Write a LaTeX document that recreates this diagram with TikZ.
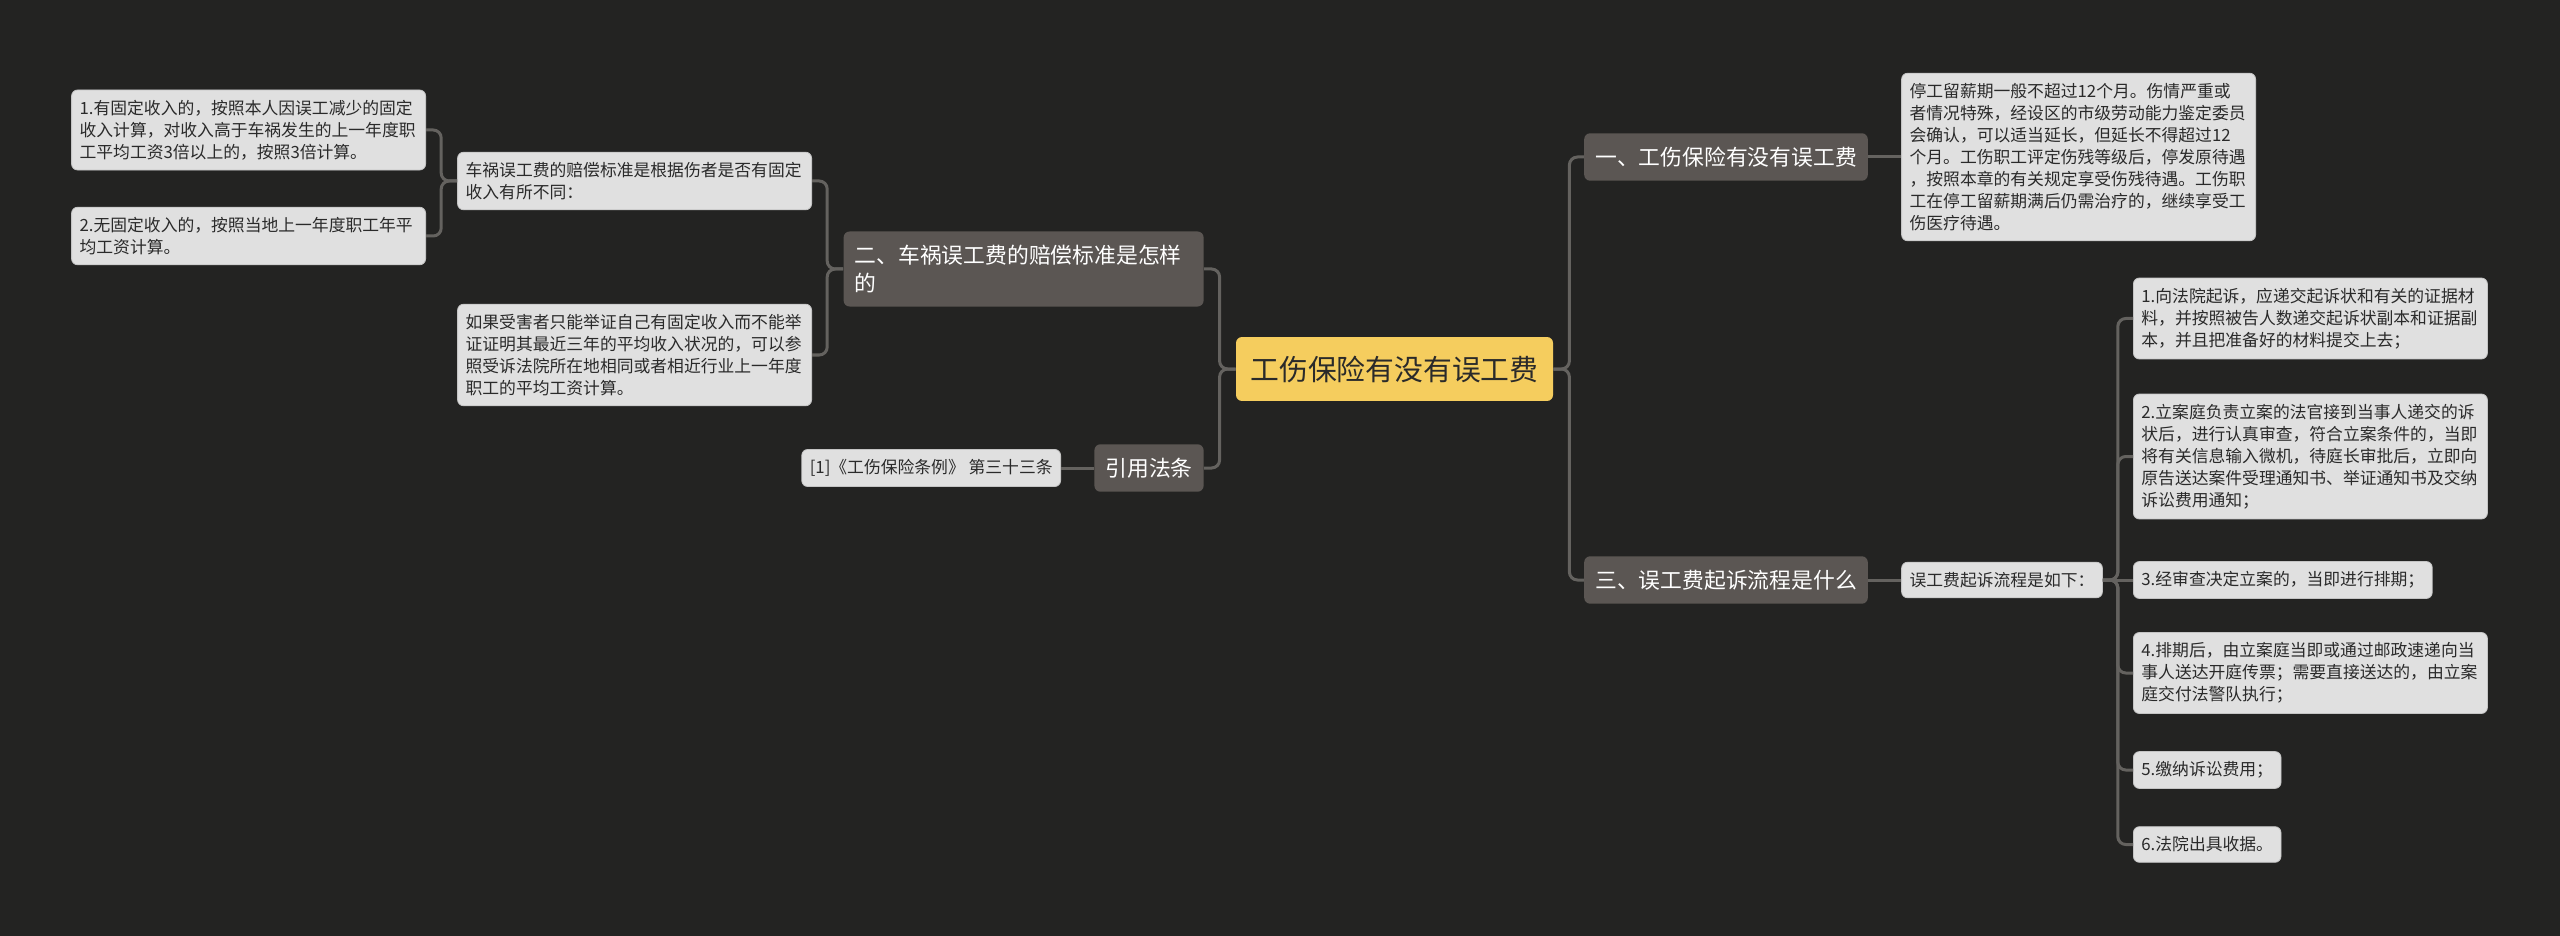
\documentclass[tikz,border=0pt]{standalone}
\usepackage{fontspec}
\setmainfont{Noto Sans CJK SC}
\usepackage{tikz}
\usetikzlibrary{positioning}
\definecolor{bgdark}{HTML}{232322}
\definecolor{rootyellow}{HTML}{F5CD5E}
\definecolor{branchgray}{HTML}{5B5653}
\definecolor{leafgray}{HTML}{E0E0E0}
\definecolor{leafedge}{HTML}{C4C4C4}
\definecolor{linegray}{HTML}{64625F}
\definecolor{inkdark}{HTML}{2A2A2A}

\begin{document}
\begin{tikzpicture}
[x=0.5pt, y=-0.5pt,
baseshape/.style={rectangle, rounded corners=3pt, align=left},
root/.style={baseshape, fill=rootyellow, text=inkdark, font=\fontsize{14.4pt}{17pt}\selectfont, inner xsep=7.25pt, inner ysep=9.3pt},
branch/.style={baseshape, fill=branchgray, text=white, font=\fontsize{10.9pt}{14pt}\selectfont, inner xsep=5.5pt, inner ysep=6.8pt},
leaf/.style={baseshape, fill=leafgray, draw=leafedge, line width=0.4pt, text=inkdark, font=\fontsize{8.4pt}{11pt}\selectfont, inner xsep=4pt, inner ysep=5pt},
wide/.style={leaf, text width=169pt},
link/.style={draw=linegray, line width=1.5pt, rounded corners=4pt},
node distance=16.5pt]

    \useasboundingbox (0,0) rectangle (2560,936);
    \fill[bgdark] (0,0) rectangle (2560,936);

    \node (main) [root] at (1394.5,369) {工伤保险有没有误工费};

    \node (sec1) [branch] at (1726,157) {一、工伤保险有没有误工费};
    \node (note1) [wide, right=of sec1] {停工留薪期一般不超过12个月。伤情严重或\\者情况特殊，经设区的市级劳动能力鉴定委员\\会确认，可以适当延长，但延长不得超过12\\个月。工伤职工评定伤残等级后，停发原待遇\\，按照本章的有关规定享受伤残待遇。工伤职\\工在停工留薪期满后仍需治疗的，继续享受工\\伤医疗待遇。};

    \node (sec3) [branch] at (1726,580) {三、误工费起诉流程是什么};
    \node (flow) [leaf, right=of sec3] {误工费起诉流程是如下：};
    \node (flow1) [wide, anchor=west] at (2133,318.5) {1.向法院起诉，应递交起诉状和有关的证据材\\料，并按照被告人数递交起诉状副本和证据副\\本，并且把准备好的材料提交上去；};
    \node (flow2) [wide, anchor=west] at (2133,456.5) {2.立案庭负责立案的法官接到当事人递交的诉\\状后，进行认真审查，符合立案条件的，当即\\将有关信息输入微机，待庭长审批后，立即向\\原告送达案件受理通知书、举证通知书及交纳\\诉讼费用通知；};
    \node (flow3) [leaf, anchor=west] at (2133,580) {3.经审查决定立案的，当即进行排期；};
    \node (flow4) [wide, anchor=west] at (2133,673) {4.排期后，由立案庭当即或通过邮政速递向当\\事人送达开庭传票；需要直接送达的，由立案\\庭交付法警队执行；};
    \node (flow5) [leaf, anchor=west] at (2133,770) {5.缴纳诉讼费用；};
    \node (flow6) [leaf, anchor=west] at (2133,844.5) {6.法院出具收据。};

    \node (sec2) [branch, text width=169pt, anchor=east] at (1204,269) {二、车祸误工费的赔偿标准是怎样\\的};
    \node (pay) [wide, anchor=east] at (812,181) {车祸误工费的赔偿标准是根据伤者是否有固定\\收入有所不同：};
    \node (pay1) [wide, anchor=east] at (426,130) {1.有固定收入的，按照本人因误工减少的固定\\收入计算，对收入高于车祸发生的上一年度职\\工平均工资3倍以上的，按照3倍计算。};
    \node (pay2) [wide, anchor=east] at (426,236) {2.无固定收入的，按照当地上一年度职工年平\\均工资计算。};
    \node (pay3) [wide, anchor=east] at (812,355) {如果受害者只能举证自己有固定收入而不能举\\证证明其最近三年的平均收入状况的，可以参\\照受诉法院所在地相同或者相近行业上一年度\\职工的平均工资计算。};

    \node (cite) [branch, anchor=east] at (1204,468) {引用法条};
    \node (cite1) [leaf, left=of cite] {[1]《工伤保险条例》 第三十三条};

    \draw[link] (main.east) -- ++(16,0) |- (sec1.west);
    \draw[link] (main.east) -- ++(16,0) |- (sec3.west);
    \draw[link] (main.west) -- ++(-16,0) |- (sec2.east);
    \draw[link] (main.west) -- ++(-16,0) |- (cite.east);
    \draw[link] (sec1) -- (note1);
    \draw[link] (sec3) -- (flow);
    \draw[link] (flow.east) -- ++(15,0) |- (flow1.west);
    \draw[link] (flow.east) -- ++(15,0) |- (flow2.west);
    \draw[link] (flow.east) -- (flow3.west);
    \draw[link] (flow.east) -- ++(15,0) |- (flow4.west);
    \draw[link] (flow.east) -- ++(15,0) |- (flow5.west);
    \draw[link] (flow.east) -- ++(15,0) |- (flow6.west);
    \draw[link] (sec2.west) -- ++(-16,0) |- (pay.east);
    \draw[link] (sec2.west) -- ++(-16,0) |- (pay3.east);
    \draw[link] (pay.west) -- ++(-16,0) |- (pay1.east);
    \draw[link] (pay.west) -- ++(-16,0) |- (pay2.east);
    \draw[link] (cite) -- (cite1);
\end{tikzpicture}
\end{document}
